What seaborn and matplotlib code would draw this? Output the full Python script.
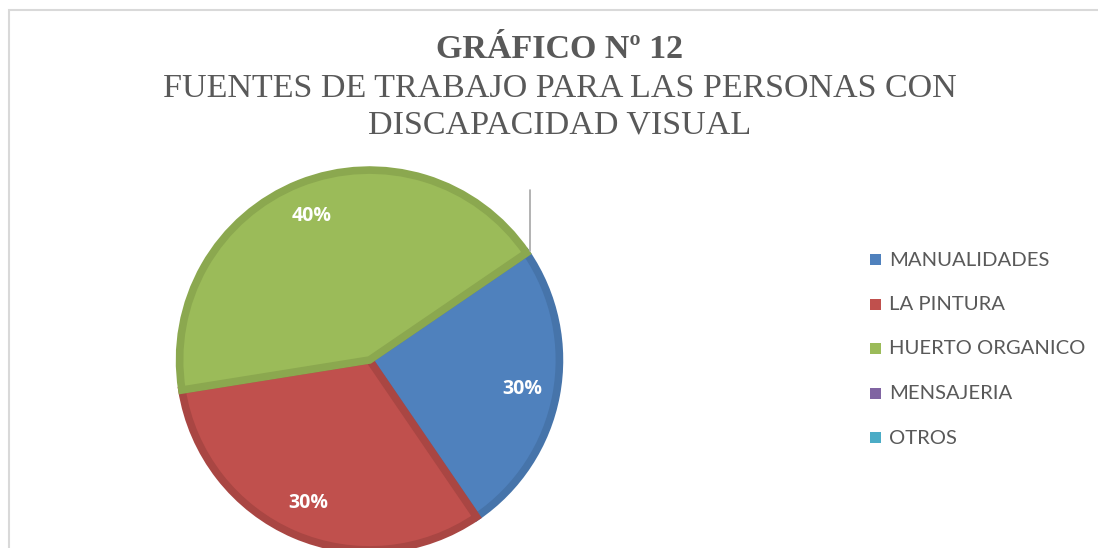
import numpy as np
import matplotlib
matplotlib.use("Agg")
import matplotlib.pyplot as plt
import seaborn as sns
from matplotlib.patches import Rectangle

# DATA (slice shares as drawn, label texts as printed)
categories = ["MANUALIDADES", "LA PINTURA", "HUERTO ORGANICO", "MENSAJERIA", "OTROS"]
shares = [25, 32, 43, 0, 0]
pct_labels = ["30%", "30%", "40%"]
title_main = "GRÁFICO Nº 12"
title_lines = ["FUENTES DE TRABAJO PARA LAS PERSONAS CON", "DISCAPACIDAD VISUAL"]

fills = ["#4F81BD", "#C0504D", "#9BBB59", "#8064A2", "#4BACC6"]
edges = ["#4674AA", "#A94643", "#8BA84F", "#72598F", "#4399AF"]

sns.set_theme(style="white")
plt.rcParams["font.family"] = ["Lato", "DejaVu Sans"]

W, H = 1098, 548
fig = plt.figure(figsize=(W / 100, H / 100), dpi=100)
fig.patch.set_facecolor("white")

# chart frame
fig.add_artist(Rectangle((9 / W, -0.05), 1.2, (H - 10) / H + 0.05, transform=fig.transFigure,
                         fill=False, edgecolor="#D9D9D9", linewidth=1.5))

# pie axes (center ~ (369.5, 360) px, radius ~194 px)
cx, cy, r = 369.5, 360, 194
ax = fig.add_axes([(cx - r) / W, (H - cy - r) / H, 2 * r / W, 2 * r / H])
pal = sns.color_palette(fills)
wedges, _ = ax.pie(shares, colors=pal, startangle=34.3, counterclock=False,
                   radius=0.979, wedgeprops=dict(linewidth=5.5))
for w, ec, v in zip(wedges, edges, shares):
    w.set_edgecolor(ec)
    w.set_joinstyle("miter")
    if v == 0:
        w.set_linewidth(0)

# data labels
for w, txt in zip(wedges[:3], pct_labels):
    mid = np.deg2rad((w.theta1 + w.theta2) / 2)
    ax.text(0.8 * np.cos(mid), 0.8 * np.sin(mid), txt, ha="center", va="center",
            color="white", fontsize=14, fontweight="bold", family="Open Sans")

# leader line for the zero slices
ang = np.deg2rad(wedges[3].theta1)
x0, y0 = np.cos(ang), np.sin(ang)
ax.plot([x0, x0], [y0, (cy - 190) / r], color="#A6A6A6", linewidth=1.2, clip_on=False)

ax.set_xlim(-1, 1)
ax.set_ylim(-1, 1)
ax.set_aspect("equal")
ax.axis("off")

# titles
fig.text(560 / W, 1 - 49 / H, title_main, ha="center", va="center", color="#595959",
         fontsize=24.5, fontweight="bold", family="Liberation Serif")
for line, ypx in zip(title_lines, [89, 125]):
    fig.text(560 / W, 1 - ypx / H, line, ha="center", va="center", color="#595959",
             fontsize=24.5, family="Liberation Serif")

# legend
for i, (name, col) in enumerate(zip(categories, fills)):
    y = 1 - (260 + 44.5 * i) / H
    fig.add_artist(Rectangle((870 / W, y - 5 / H), 11 / W, 11 / H, transform=fig.transFigure,
                             facecolor=col, edgecolor="none"))
    fig.text(889 / W, y, name, ha="left", va="center", color="#595959", fontsize=14.6)

fig.savefig("out.png", dpi=100, facecolor="white")
